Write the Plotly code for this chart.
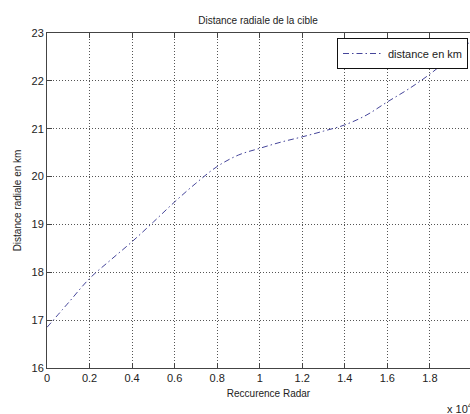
import plotly.graph_objects as go

# Data (x in units of 10^4)
recurrence = [0.0, 0.1, 0.2, 0.3, 0.4, 0.5, 0.6, 0.7, 0.8, 0.9, 1.0,
              1.1, 1.2, 1.3, 1.4, 1.5, 1.6, 1.7, 1.8, 1.9, 2.0]
distance_km = [16.85, 17.36, 17.87, 18.26, 18.64, 19.05, 19.47, 19.86, 20.21, 20.45, 20.59,
               20.72, 20.83, 20.95, 21.08, 21.28, 21.56, 21.83, 22.14, 22.50, 22.85]
x_ticks = [0, 0.2, 0.4, 0.6, 0.8, 1, 1.2, 1.4, 1.6, 1.8]
x_labels = ["0", "0.2", "0.4", "0.6", "0.8", "1", "1.2", "1.4", "1.6", "1.8"]
y_ticks = [16, 17, 18, 19, 20, 21, 22, 23]

font = "Liberation Sans, Arial, sans-serif"

W, H = 490, 414
L, T, B = 47, 33, 46
PW = W - L  # plot width in px (extends past the 470px window, like the cropped reference)
PH = H - T - B
XMAX = PW / 212.7  # 212.7 px per x unit, as in the reference

fig = go.Figure()
fig.add_trace(go.Scatter(
    x=recurrence, y=distance_km, mode="lines", name="distance en km",
    line=dict(color="#45459a", width=1, dash="6px,3px,1.5px,3px", shape="spline"),
))

fig.update_layout(
    width=W, height=H,
    margin=dict(l=L, r=0, t=T, b=B, autoexpand=False),
    paper_bgcolor="white", plot_bgcolor="white",
    font=dict(family=font, size=11, color="#222"),
    title=dict(text="Distance radiale de la cible", x=(258 - L) / PW, xanchor="center",
               xref="paper", y=1 - 20 / H, yanchor="middle",
               font=dict(size=10, color="#222")),
    showlegend=True,
    legend=dict(x=(337 - L) / PW, xanchor="left", y=(368 - 38) / PH, yanchor="top",
                bgcolor="white", bordercolor="#111", borderwidth=1,
                font=dict(size=11, color="#222"), itemwidth=40,
                tracegroupgap=0),
    xaxis=dict(range=[0, XMAX], tickvals=x_ticks, ticktext=x_labels, automargin=False,
               showgrid=True, gridcolor="#555", griddash="1px,2px", gridwidth=1,
               showline=True, linecolor="#444", linewidth=1, mirror="ticks",
               ticks="inside", ticklen=5, tickcolor="#444", zeroline=False,
               title=dict(text="Reccurence Radar", font=dict(size=10), standoff=6),
               tickfont=dict(size=11)),
    yaxis=dict(range=[16, 23], tickvals=y_ticks, automargin=False,
               showgrid=True, gridcolor="#555", griddash="1px,2px", gridwidth=1,
               showline=True, linecolor="#444", linewidth=1, mirror=False,
               ticks="inside", ticklen=5, tickcolor="#444", zeroline=False,
               title=dict(text="Distance radiale en km", font=dict(size=10), standoff=8),
               tickfont=dict(size=11)),
)

fig.add_annotation(text="x 10<sup>4</sup>", xref="paper", yref="paper",
                   x=(445 - L) / PW, y=(368 - 408) / PH, xanchor="left", yanchor="middle",
                   showarrow=False, font=dict(size=11, color="#222"))

fig.write_html("out.html", config={"displayModeBar": False},
               post_script=("document.body.style.margin='0';"
                            "document.body.style.overflow='hidden';"
                            "document.documentElement.style.overflow='hidden';"))
